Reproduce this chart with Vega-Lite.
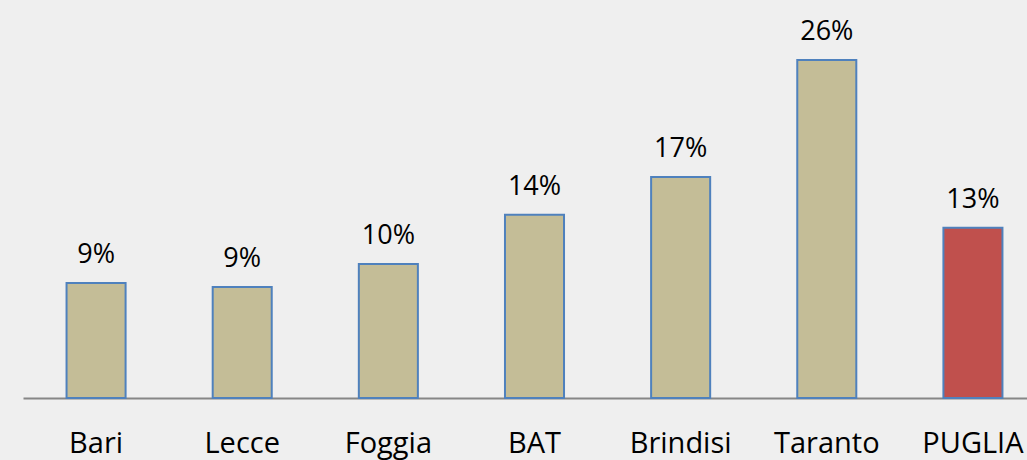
{
  "$schema": "https://vega.github.io/schema/vega-lite/v6.json",
  "width": 1004,
  "height": 390,
  "autosize": {"type": "none"},
  "padding": {"left": 23, "top": 8, "right": 0, "bottom": 62},
  "background": "#efefef",
  "config": {"view": {"stroke": null}, "font": "Open Sans"},
  "data": {
    "values": [
      {"provincia": "Bari", "valore": 0.0885, "tipo": "prov"},
      {"provincia": "Lecce", "valore": 0.0854, "tipo": "prov"},
      {"provincia": "Foggia", "valore": 0.103, "tipo": "prov"},
      {"provincia": "BAT", "valore": 0.141, "tipo": "prov"},
      {"provincia": "Brindisi", "valore": 0.170, "tipo": "prov"},
      {"provincia": "Taranto", "valore": 0.260, "tipo": "prov"},
      {"provincia": "PUGLIA", "valore": 0.131, "tipo": "reg"}
    ]
  },
  "encoding": {
    "x": {
      "field": "provincia",
      "type": "nominal",
      "sort": null,
      "scale": {"range": [0, 1023], "paddingInner": 0.596, "paddingOuter": 0.298},
      "axis": {
        "title": null,
        "labelAngle": 0,
        "labelFont": "Open Sans",
        "labelFontSize": 29,
        "labelColor": "#000000",
        "labelBaseline": "alphabetic",
        "labelPadding": 54,
        "ticks": false,
        "tickSize": 0,
        "domainColor": "#868686",
        "domainWidth": 2,
        "grid": false
      }
    },
    "y": {
      "field": "valore",
      "type": "quantitative",
      "scale": {"domain": [0, 0.30], "nice": false},
      "axis": null
    }
  },
  "layer": [
    {
      "mark": {"type": "bar", "stroke": "#4F81BD", "strokeWidth": 2},
      "encoding": {
        "color": {
          "field": "tipo",
          "type": "nominal",
          "scale": {"domain": ["prov", "reg"], "range": ["#C4BD97", "#C0504D"]},
          "legend": null
        }
      }
    },
    {
      "mark": {"type": "text", "baseline": "alphabetic", "dy": -20, "fontSize": 27, "font": "Open Sans", "color": "#000000"},
      "encoding": {
        "text": {"field": "valore", "type": "quantitative", "format": ".0%"}
      }
    }
  ]
}
